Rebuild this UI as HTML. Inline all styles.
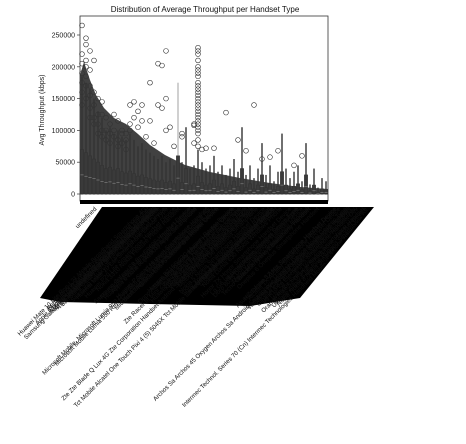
<!DOCTYPE html>
<html><head><meta charset="utf-8"><style>
html,body{margin:0;padding:0;background:#fff;width:466px;height:444px;overflow:hidden}
svg{display:block;font-family:"Liberation Sans","DejaVu Sans",sans-serif}
</style></head><body>
<svg id="chart" width="466" height="444" viewBox="0 0 466 444">
<defs><clipPath id="lblclip"><polygon points="0,200 376,200 322,268 300,444 0,444"/></clipPath></defs>
<text x="205" y="12" font-size="8" text-anchor="middle" fill="#111">Distribution of Average Throughput per Handset Type</text>
<text transform="translate(44,110) rotate(-90)" font-size="7" text-anchor="middle" fill="#222">Avg Throughput (kbps)</text>
<g id="yaxis"></g>
<polygon points="102,207 374,207 300,298 250,306 150,304 60,302 40,298" fill="#000"/>
<g id="xlabels" clip-path="url(#lblclip)"></g>
<polygon points="80,194 80,75 84,62 90,80 96,95 104,108 114,118 126,124 138,134 150,145 165,155 185,165 210,172 240,178 270,183 300,187 328,189 328,194" fill="#333" opacity="0.93"/>
<g id="plot"></g>
<rect x="80" y="16" width="248" height="185" fill="none" stroke="#333" stroke-width="0.8"/>
<rect x="80" y="200" width="248" height="4" fill="#000"/>
</svg>
<script>
const yTicks=[0,50000,100000,150000,200000,250000];
const categories=["Huawei Mate 10 Lite Rne-L21 Mobile Broadband Smartphone 4G","undefined","Samsung Galaxy S8 Sm-G950F Samsung Android Smartphone 4G","Apple iPhone 6 (A1586) Apple Smartphone Handset Device","Apple iPhone 7 (A1778) Apple Smartphone Handset","Apple iPhone Se (A1723) Apple Smartphone Handset","Apple iPhone 8 (A1905) Apple Smartphone Handset","Samsung Galaxy S8 (Sm-G950F) Handset Device","Apple iPhone Xr (A2105) Apple Smartphone","Samsung Galaxy J5 (Sm-J530) Handset Device","Huawei Mate 10 Lite Smartphone Device Type","Microsoft Mobile, Microsoft Lumia 950 Dual Sim Rm-1118 Windows Phone Device 4G","Huawei P20 Lite Smartphone Handset Device","Microsoft Mobile Lumia 550 Rm-1127 Windows Phone Smartphone Handset Dev","Nokia 3310 Nokia Feature Phone Handset","Samsung Galaxy S9 Sm-G960F Handset Device","Microsoft Lumia 640 Windows Phone Handset","Huawei Y6 2018 Huawei Smartphone Handset","Apple iPhone X (A1901) Apple Smartphone","Zte Zte Blade Q Lux 4G Zte Corporation Handset Android Smartphone Device Model Generic Type","Huawei P Smart Huawei Smartphone Handset","Microsoft Mobile Lumia 435 Windows Phone Device","Samsung Sm-G390F Samsung Handset Device","Tct Mobile Alcatel One Touch Pixi 4 (5) 5045X Tct Mobile Limited Handset Smartphone Device Generic","Huawei E5573 Mobile Wifi Router Device","Zte Racer III Mini Zte Smartphone Handset Device Generic","Oppo A5 Ax5 Oppo Smartphone Handset Device","Huawei B715S-23C Huawei Router Device","Samsung Galaxy Note 8 Handset Device","Huawei B528S-23A Huawei Router Device Type","Zte Zte Sb V8 Zte Handset Device Type","Xiaomi Redmi Note 5 Xiaomi Smartphone","Wiko Lenny 4 Wiko Smartphone Handset","Kiowa Tsb Kiowa Handset Device Type","Motorola Moto G6 Motorola Smartphone","Nokia 5 Nokia Smartphone Handset Device","Sony Xperia Xa1 Sony Smartphone Handset","Lenovo K6 Note Lenovo Smartphone Device","Netgear Aircard Netgear Router Device","Crosscall Trekker X3 Crosscall Handset","Nokia Lumia 630 Nokia Windows Phone","Honor 7X Honor Smartphone Handset Device","Archos Sa Archos 45 Oxygen Archos Sa Android Smartphone Handset Device Model Generic Type","Lg G6 Lg Smartphone Handset Device Type","Doro 8035 Doro Smartphone Handset Device","Hisense Infinity Hisense Smartphone","Tecno Camon X Tecno Smartphone Handset","Meizu M6 Meizu Smartphone Handset","Blackberry Key2 Blackberry Handset","Oneplus 6 Oneplus Smartphone Handset","Intermec Technol. Series 70 (Cn) Intermec Technologies Handheld Mobile Computer Device Type Gen","Asus Zenfone 5 Asus Smartphone Handset Device","Htc Desire 12 Htc Smartphone Handset Device","Alcatel 1X Alcatel Smartphone Handset Device","Vodafone Smart N9 Vodafone Smartphone Handset","Cat S41 Caterpillar Rugged Smartphone Handset","Gigaset Gs270 Gigaset Smartphone Handset Dev","Lg K10 Lg Electronics Smartphone Handset Dev","Orange Rise 52 Orange Smartphone Handset Device","Wileyfox Swift 2 Wileyfox Smartphone Handset","Ulefone Armor 5 Ulefone Rugged Smartphone Dev","Nokia Nokia 8 Nokia Smartphone Handset Device"];
const upperWhisker=[185000,175000,165000,150000,130000,120000,100000,105000,95000,100000,90000,85000,95000,85000,75000,80000,70000,65000,60000,55000,60000,50000,55000,45000,175000,50000,105000,40000,45000,70000,50000,40000,45000,60000,35000,45000,30000,40000,55000,35000,105000,30000,45000,25000,40000,80000,30000,45000,20000,35000,95000,40000,25000,35000,45000,20000,80000,15000,40000,10000,25000,20000];
const q3Values=[70000,65000,60000,55000,50000,45000,40000,42000,38000,40000,35000,33000,36000,32000,28000,30000,26000,24000,22000,20000,22000,18000,20000,16000,60000,18000,40000,14000,16000,28000,18000,14000,16000,22000,12000,16000,10000,14000,20000,12000,40000,10000,16000,8000,14000,30000,10000,16000,7000,12000,35000,14000,8000,12000,16000,7000,30000,5000,14000,3000,8000,6000];
const medianValues=[30000,28000,26000,24000,22000,20000,18000,19000,17000,18000,15000,14000,16000,14000,12000,13000,11000,10000,9000,8000,9000,7000,8000,6000,25000,7000,16000,5000,6000,12000,7000,5000,6000,9000,4000,6000,3000,5000,8000,4000,16000,3000,6000,2500,5000,12000,3000,6000,2000,4000,14000,5000,2500,4000,6000,2000,12000,1500,5000,1000,2500,2000];
const outlierCats=[0,0,0,0,0,0,0,1,1,1,1,1,1,1,2,2,2,2,2,2,3,3,3,3,3,4,4,4,4,5,5,5,5,6,6,6,7,7,7,8,8,9,9,10,10,11,11,12,12,13,14,15,15,17,17,19,19,20,20,21,21,21,22,25,25,28,28,28,29,29,29,29,29,29,29,29,29,29,29,29,29,29,29,29,29,29,29,29,29,29,29,29,29,29,29,30,31,33,36,39,41,43,45,47,49,53,55,16,18,23,12,13,14,8,9,10,11];
const outlierVals=[265000,220000,205000,190000,175000,160000,140000,245000,235000,210000,200000,185000,170000,150000,225000,195000,170000,155000,135000,120000,210000,160000,140000,120000,110000,150000,125000,110000,95000,125000,145000,100000,90000,100000,120000,85000,95000,110000,80000,100000,90000,85000,75000,95000,80000,85000,70000,140000,100000,145000,130000,140000,115000,175000,115000,205000,140000,202000,135000,225000,150000,100000,105000,95000,90000,110000,108000,80000,230000,225000,220000,210000,200000,195000,190000,185000,175000,170000,165000,160000,155000,150000,145000,140000,135000,130000,125000,120000,115000,110000,105000,100000,95000,85000,75000,70000,72000,72000,128000,85000,68000,140000,55000,58000,68000,45000,60000,90000,80000,75000,110000,120000,105000,125000,115000,100000,95000];
const NS="http://www.w3.org/2000/svg";
const X0=80,PW=248,Y0=194,YT=35;
const yScale=v=>Y0-(v/250000)*(Y0-YT);
const step=PW/categories.length;
const xScale=i=>X0+(i+0.5)*step;
const yax=document.getElementById('yaxis');
yTicks.forEach(t=>{
  const tx=document.createElementNS(NS,'text');
  
  
  tx.setAttribute('x',75);tx.setAttribute('y',yScale(t)+2.5);
  tx.setAttribute('font-size','7');tx.setAttribute('text-anchor','end');tx.setAttribute('fill','#222');
  tx.textContent=t;yax.appendChild(tx);
  const ln=document.createElementNS(NS,'line');
  
  
  ln.setAttribute('x1',77);ln.setAttribute('x2',80);ln.setAttribute('y1',yScale(t));ln.setAttribute('y2',yScale(t));
  ln.setAttribute('stroke','#333');ln.setAttribute('stroke-width','0.7');yax.appendChild(ln);
});
const plot=document.getElementById('plot');
categories.forEach((c,i)=>{
  const x=xScale(i),bw=step*0.8;
  const w=document.createElementNS(NS,'line');
  
  
  w.setAttribute('x1',x);w.setAttribute('x2',x);w.setAttribute('y1',yScale(0));w.setAttribute('y2',yScale(upperWhisker[i]));
  w.setAttribute('stroke',i===24?'#bbb':'#333');w.setAttribute('stroke-width','1.4');plot.appendChild(w);
  const b=document.createElementNS(NS,'rect');
  
  
  b.setAttribute('x',x-bw/2);b.setAttribute('width',bw);
  b.setAttribute('y',yScale(q3Values[i]));b.setAttribute('height',yScale(0)-yScale(q3Values[i]));
  b.setAttribute('fill','#3a3a3a');b.setAttribute('stroke','#333');b.setAttribute('stroke-width','0.6');plot.appendChild(b);
  const m=document.createElementNS(NS,'line');
  
  
  m.setAttribute('x1',x-bw/2);m.setAttribute('x2',x+bw/2);m.setAttribute('y1',yScale(medianValues[i]));m.setAttribute('y2',yScale(medianValues[i]));
  m.setAttribute('stroke','#999');m.setAttribute('stroke-width','0.5');plot.appendChild(m);
  const z=document.createElementNS(NS,'line');
  
  
  z.setAttribute('x1',x-bw/2);z.setAttribute('x2',x+bw/2);z.setAttribute('y1',yScale(0));z.setAttribute('y2',yScale(0));
  z.setAttribute('stroke','#333');z.setAttribute('stroke-width','1');plot.appendChild(z);
});
outlierCats.forEach((ci,k)=>{
  const o=document.createElementNS(NS,'circle');
  
  
  o.setAttribute('cx',xScale(ci));o.setAttribute('cy',yScale(outlierVals[k]));o.setAttribute('r','2.4');
  o.setAttribute('fill','none');o.setAttribute('stroke','#333');o.setAttribute('stroke-width','0.6');plot.appendChild(o);
});
const xl=document.getElementById('xlabels');
categories.forEach((c,i)=>{
  const t=document.createElementNS(NS,'text');
  
  
  t.setAttribute('font-size','6.2');t.setAttribute('fill','#111');t.setAttribute('text-anchor','middle');
  t.textContent=c;xl.appendChild(t);
  const L=t.getComputedTextLength();
  const d=L/(2*Math.SQRT2);
  const cx=xScale(i),cy=206+d+2;
  t.setAttribute('transform','translate('+cx+','+cy+') rotate(-45)');
  t.setAttribute('y','2');
});
</script>
</body></html>
